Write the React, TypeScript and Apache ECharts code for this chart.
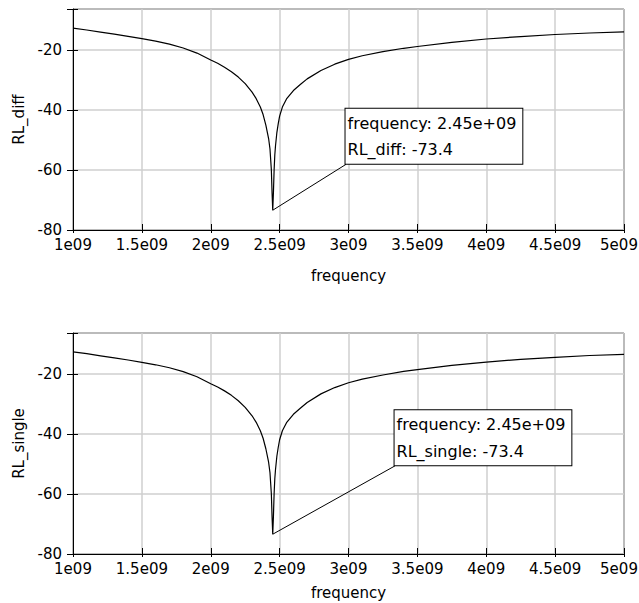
import React, { useEffect, useRef } from "react";
import * as echarts from "echarts";

// frequency samples (Hz)
const freqs = [
  1.0e9, 1.1e9, 1.2e9, 1.3e9, 1.4e9, 1.5e9, 1.6e9, 1.7e9, 1.8e9, 1.9e9,
  2.0e9, 2.05e9, 2.1e9, 2.15e9, 2.2e9, 2.25e9, 2.3e9, 2.33e9, 2.36e9, 2.38e9,
  2.4e9, 2.42e9, 2.43e9, 2.44e9, 2.445e9, 2.45e9, 2.455e9, 2.46e9, 2.465e9, 2.47e9,
  2.48e9, 2.49e9, 2.5e9, 2.52e9, 2.55e9, 2.6e9, 2.65e9, 2.7e9, 2.8e9, 2.9e9,
  3.0e9, 3.1e9, 3.25e9, 3.4e9, 3.5e9, 3.75e9, 4.0e9, 4.25e9, 4.5e9, 4.75e9, 5.0e9,
];

// RL_diff (dB)
const rlDiff = [
  -12.7, -13.3, -14.0, -14.7, -15.4, -16.2, -17.0, -18.0, -19.3, -21.0,
  -23.3, -24.4, -25.7, -27.2, -29.0, -31.2, -34.0, -36.2, -39.0, -41.5,
  -45.0, -49.5, -53.0, -60.0, -67.5, -73.4, -67.5, -60.0, -55.0, -52.0,
  -47.5, -44.5, -42.0, -39.0, -36.3, -33.5, -31.5, -29.6, -26.8, -24.7,
  -23.1, -21.9, -20.5, -19.4, -18.8, -17.4, -16.3, -15.5, -14.8, -14.3, -13.9,
];

// RL_single (dB)
const rlSingle = [
  -12.6, -13.2, -13.9, -14.6, -15.3, -16.1, -16.9, -17.9, -19.2, -20.9,
  -23.2, -24.3, -25.6, -27.1, -28.9, -31.1, -33.9, -36.1, -38.9, -41.4,
  -44.9, -49.4, -52.9, -60.0, -67.5, -73.4, -67.5, -59.9, -54.9, -51.9,
  -47.4, -44.4, -41.9, -38.9, -36.2, -33.4, -31.4, -29.5, -26.6, -24.5,
  -22.9, -21.7, -20.3, -19.1, -18.5, -17.1, -16.0, -15.1, -14.4, -13.8, -13.4,
];

const xRange = [1e9, 5e9];
const xInterval = 0.5e9;
const yRange = [-80, -6.3];
const yInterval = 20;

// marker readout
const markerFreq = 2.45e9;
const markerDiff = -73.4;
const markerSingle = -73.4;
// annotation box anchors (bottom-left corner, in data coordinates)
const diffBoxAnchor = [2.982e9, -58.1];
const singleBoxAnchor = [3.338e9, -50.6];

const FONT = "DejaVu Sans";

function fmtX(v: number) {
  const m = v / 1e9;
  const s = (Number.isInteger(m) ? String(m) : m.toFixed(1)) + "e09";
  return v >= xRange[1] ? "{last|" + s + "}" : s;
}

function fmtY(v: number) {
  return Math.abs(v % yInterval) < 1e-6 ? String(v) : "";
}

function buildAxes(gridIndex: number, yName: string, xNameGap: number) {
  const xMain = {
    type: "value",
    gridIndex,
    position: "bottom",
    min: xRange[0],
    max: xRange[1],
    interval: xInterval,
    name: "frequency",
    nameLocation: "middle",
    nameGap: xNameGap,
    nameTextStyle: { fontFamily: FONT, fontSize: 15, color: "#000" },
    axisLine: { show: true, onZero: false, lineStyle: { color: "#000", width: 1 } },
    axisTick: { show: true, length: 3, lineStyle: { color: "#000", width: 1 } },
    axisLabel: {
      margin: 7, fontFamily: FONT, fontSize: 15, color: "#000", formatter: fmtX, hideOverlap: false,
      rich: { last: { fontFamily: FONT, fontSize: 15, color: "#000", padding: [0, 10, 0, 0] } },
    },
    splitLine: { show: true, lineStyle: { color: "#cfcfcf", width: 1.5 } },
  };
  const xInner = {
    type: "value",
    gridIndex,
    position: "bottom",
    min: xRange[0],
    max: xRange[1],
    interval: xInterval,
    axisLine: { show: false, onZero: false },
    axisTick: { show: true, inside: true, length: 6, lineStyle: { color: "#000", width: 1 } },
    axisLabel: { show: false },
    splitLine: { show: false },
  };
  const yMain = {
    type: "value",
    gridIndex,
    position: "left",
    min: yRange[0],
    max: yRange[1],
    interval: yInterval,
    name: yName,
    nameLocation: "middle",
    nameGap: 35,
    nameTextStyle: { fontFamily: FONT, fontSize: 15, color: "#000" },
    axisLine: { show: true, onZero: false, lineStyle: { color: "#000", width: 1 } },
    axisTick: { show: true, length: 6, lineStyle: { color: "#000", width: 1 } },
    axisLabel: { margin: 11, fontFamily: FONT, fontSize: 15, color: "#000", formatter: fmtY },
    splitLine: { show: true, lineStyle: { color: "#cfcfcf", width: 1.5 } },
  };
  const yInner = {
    type: "value",
    gridIndex,
    position: "left",
    min: yRange[0],
    max: yRange[1],
    interval: yInterval,
    axisLine: { show: false, onZero: false },
    axisTick: { show: true, inside: true, length: 5, lineStyle: { color: "#000", width: 1 } },
    axisLabel: { show: false },
    splitLine: { show: false },
  };
  return { x: [xMain, xInner], y: [yMain, yInner] };
}

function buildSeries(axisIndex: number, name: string, values: number[], mVal: number, anchor: number[]) {
  return {
    type: "line",
    name,
    xAxisIndex: axisIndex,
    yAxisIndex: axisIndex,
    data: freqs.map((f, i) => [f, values[i]]),
    showSymbol: false,
    symbol: "none",
    lineStyle: { color: "#000", width: 1.2 },
    silent: true,
    markLine: {
      silent: true,
      symbol: ["none", "none"],
      lineStyle: { color: "#000", width: 1, type: "solid" },
      label: { show: false },
      data: [[{ coord: [markerFreq, mVal] }, { coord: anchor }]],
    },
    markPoint: {
      silent: true,
      symbol: "circle",
      symbolSize: 1,
      itemStyle: { color: "rgba(0,0,0,0)" },
      data: [{ coord: anchor }],
      label: {
        show: true,
        position: [0, 0],
        align: "left",
        verticalAlign: "bottom",
        formatter: "frequency: 2.45e+09\n" + name + ": " + mVal.toFixed(1),
        fontFamily: FONT,
        fontSize: 16,
        lineHeight: 26.5,
        color: "#000",
        backgroundColor: "#fff",
        borderColor: "#000",
        borderWidth: 1,
        padding: [1, 6, 1, 2],
      },
    },
  };
}

export default function App() {
  const ref = useRef<HTMLDivElement>(null);
  useEffect(() => {
    if (!ref.current) return;
    const chart = echarts.init(ref.current, undefined, { renderer: "svg" });
    const a0 = buildAxes(0, "RL_diff", 38);
    const a1 = buildAxes(1, "RL_single", 31);
    const gridBase = {
      left: 73, right: 15, height: 221, show: true, borderColor: "#000", borderWidth: 1,
      backgroundColor: "transparent", containLabel: false, outerBoundsMode: "none",
    };
    chart.setOption({
      animation: false,
      backgroundColor: "#fff",
      grid: [
        { ...gridBase, top: 9 },
        { ...gridBase, top: 333 },
      ],
      xAxis: [...a0.x, ...a1.x],
      yAxis: [...a0.y, ...a1.y],
      series: [
        buildSeries(0, "RL_diff", rlDiff, markerDiff, diffBoxAnchor),
        buildSeries(2, "RL_single", rlSingle, markerSingle, singleBoxAnchor),
      ],
    });
    return () => chart.dispose();
  }, []);
  return (
    <div
      ref={ref}
      style={{ position: "fixed", left: 0, top: 0, width: 639, height: 603, background: "#fff" }}
    />
  );
}
